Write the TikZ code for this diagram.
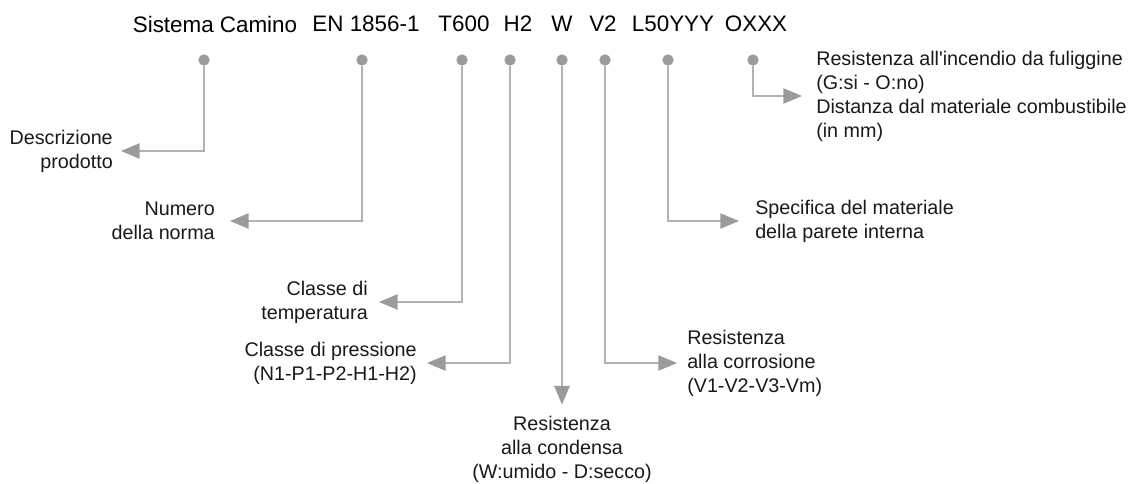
\documentclass[tikz,border=0pt]{standalone}
\usepackage{fontspec}
\setmainfont{Liberation Sans}
\usetikzlibrary{arrows.meta}
\definecolor{lgray}{RGB}{178,178,178}
\definecolor{agray}{RGB}{155,155,155}
\tikzset{
  title/.style={anchor=center, inner sep=0pt, font=\fontsize{16.8}{20}\selectfont, text=black},
  dotnode/.style={circle, fill=agray, draw=none, minimum size=8.5pt, inner sep=0pt},
  lab/.style={inner sep=0pt, font=\fontsize{14.8}{18}\selectfont, text=black!90},
  conn/.style={draw=lgray, line width=1.1pt, -{Triangle[length=14pt,width=11.5pt,color=agray]}}
}
\begin{document}
\begin{tikzpicture}[x=0.75pt, y=-0.75pt]
\useasboundingbox (0,0) rectangle (1142,484);
% title tokens
\node[title] (t1) at (215,24) {Sistema Camino};
\node[title] (t2) at (366,24) {EN 1856-1};
\node[title] (t3) at (464,24) {T600};
\node[title] (t4) at (518,24) {H2};
\node[title] (t5) at (562,24) {W};
\node[title] (t6) at (603,24) {V2};
\node[title] (t7) at (673,24) {L50YYY};
\node[title] (t8) at (756,24) {OXXX};
% dots
\node[dotnode] (d1) at (204,60) {};
\node[dotnode] (d2) at (362,60) {};
\node[dotnode] (d3) at (462,60) {};
\node[dotnode] (d4) at (510,60) {};
\node[dotnode] (d5) at (562,60) {};
\node[dotnode] (d6) at (605,60) {};
\node[dotnode] (d7) at (668,60) {};
\node[dotnode] (d8) at (753,60) {};
% labels
\node[lab, anchor=east, align=right] (l1) at (113,151) {Descrizione\\prodotto};
\node[lab, anchor=east, align=right] (l2) at (215,221) {Numero\\della norma};
\node[lab, anchor=east, align=right] (l3) at (368,302) {Classe di\\temperatura};
\node[lab, anchor=east, align=right] (l4) at (417,363) {Classe di pressione\\(N1-P1-P2-H1-H2)};
\node[lab, anchor=north, align=center] (l5) at (562,416) {Resistenza\\alla condensa\\(W:umido - D:secco)};
\node[lab, anchor=west, align=left] (l6) at (687,363) {Resistenza\\alla corrosione\\(V1-V2-V3-Vm)};
\node[lab, anchor=west, align=left] (l7) at (755,221) {Specifica del materiale\\della parete interna};
\node[lab, anchor=west, align=left] (l8) at (816,96) {Resistenza all\textquotesingle incendio da fuliggine\\(G:si - O:no)\\Distanza dal materiale combustibile\\(in mm)};
% connectors
\draw[conn] (d1) |- ([xshift=6pt]l1.east);
\draw[conn] (d2) |- ([xshift=11.25pt]l2.east);
\draw[conn] (d3) |- ([xshift=8.25pt]l3.east);
\draw[conn] (d4) |- ([xshift=7.5pt]l4.east);
\draw[conn] (d5) -- ([yshift=8.5pt]l5.north);
\draw[conn] (d6) |- ([xshift=-7.5pt]l6.west);
\draw[conn] (d7) |- ([xshift=-12pt]l7.west);
\draw[conn] (d8) |- ([xshift=-10.5pt]l8.west);
\end{tikzpicture}
\end{document}
